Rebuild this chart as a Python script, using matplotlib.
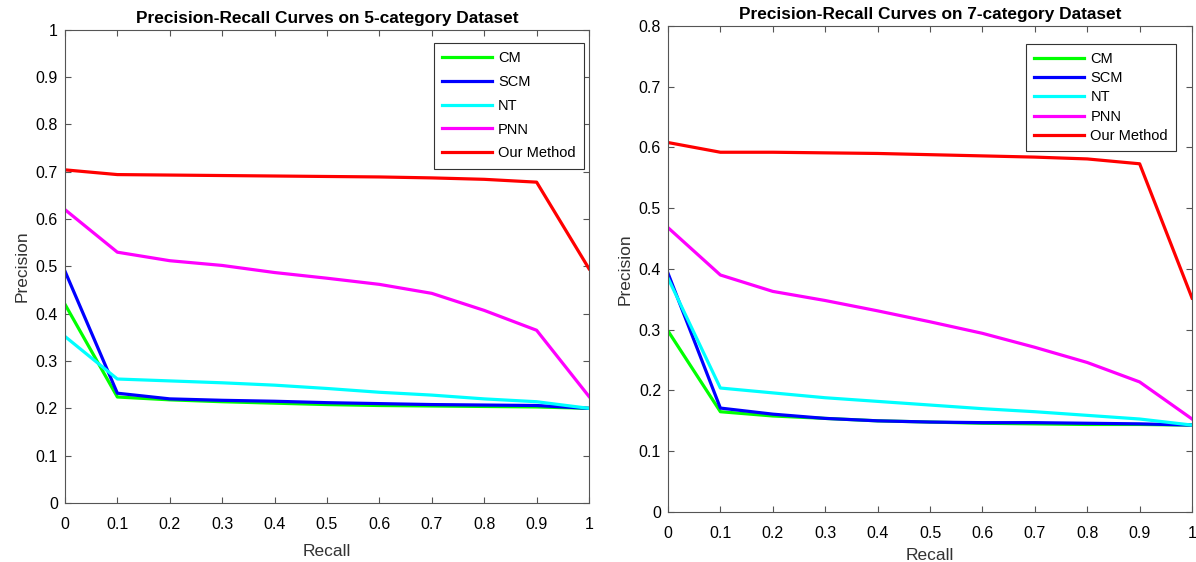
import matplotlib
matplotlib.use('Agg')
from matplotlib import pyplot as plt

plt.rcParams['font.family'] = ['Liberation Sans', 'DejaVu Sans']

recall = [0, 0.1, 0.2, 0.3, 0.4, 0.5, 0.6, 0.7, 0.8, 0.9, 1.0]
names = ['CM', 'SCM', 'NT', 'PNN', 'Our Method']
colors = ['#00ff00', '#0000ff', '#00ffff', '#ff00ff', '#ff0000']

# 5-category dataset
cm5 = [0.42, 0.224, 0.218, 0.214, 0.211, 0.208, 0.206, 0.205, 0.204, 0.203, 0.2]
scm5 = [0.49, 0.232, 0.220, 0.217, 0.215, 0.212, 0.210, 0.208, 0.207, 0.206, 0.2]
nt5 = [0.352, 0.262, 0.258, 0.254, 0.249, 0.242, 0.234, 0.228, 0.220, 0.214, 0.2]
pnn5 = [0.62, 0.53, 0.512, 0.502, 0.487, 0.475, 0.462, 0.443, 0.407, 0.365, 0.225]
ours5 = [0.704, 0.694, 0.693, 0.692, 0.691, 0.690, 0.689, 0.687, 0.684, 0.678, 0.495]

# 7-category dataset
cm7 = [0.298, 0.165, 0.158, 0.154, 0.150, 0.148, 0.146, 0.145, 0.144, 0.144, 0.143]
scm7 = [0.393, 0.171, 0.161, 0.154, 0.150, 0.148, 0.147, 0.147, 0.146, 0.145, 0.143]
nt7 = [0.385, 0.204, 0.196, 0.188, 0.182, 0.176, 0.170, 0.165, 0.159, 0.153, 0.143]
pnn7 = [0.468, 0.39, 0.363, 0.348, 0.331, 0.313, 0.294, 0.271, 0.246, 0.214, 0.153]
ours7 = [0.608, 0.592, 0.592, 0.591, 0.590, 0.588, 0.586, 0.584, 0.581, 0.573, 0.352]

fig = plt.figure(figsize=(11.96, 5.62), dpi=100)
ax1 = fig.add_axes([0.0543, 0.105, 0.4382, 0.842])
ax2 = fig.add_axes([0.5585, 0.089, 0.4382, 0.865])


def draw(ax, series, ymax, title, leg_anchor, leg_spacing, xlabpad):
    for vals, name, c in zip(series, names, colors):
        ax.plot(recall, vals, color=c, linewidth=2.3, label=name)
    ax.set_xlim(0, 1)
    ax.set_ylim(0, ymax)
    ax.set_xticks(recall)
    ax.set_xticklabels(['0', '0.1', '0.2', '0.3', '0.4', '0.5', '0.6', '0.7', '0.8', '0.9', '1'])
    yt = [i / 10 for i in range(int(round(ymax * 10)) + 1)]
    ax.set_yticks(yt)
    ax.set_yticklabels(['0' if v == 0 else ('1' if v == 1 else '%.1f' % v) for v in yt])
    ax.tick_params(direction='in', top=True, right=True, labelsize=11.5, length=4,
                   color='#555555')
    ax.tick_params(axis='x', pad=10)
    ax.tick_params(axis='y', pad=5)
    for s in ax.spines.values():
        s.set_color('#555555')
        s.set_linewidth(0.8)
    ax.set_xlabel('Recall', fontsize=12.5, color='#333333', labelpad=xlabpad)
    ax.set_ylabel('Precision', fontsize=12.5, color='#333333', labelpad=4)
    ax.set_title(title, fontsize=12.4, fontweight='bold', pad=5)
    leg = ax.legend(loc='upper right', bbox_to_anchor=leg_anchor, borderaxespad=0,
                    fontsize=10.5, fancybox=False, framealpha=1, edgecolor='#333333',
                    handlelength=3.4, labelspacing=leg_spacing, handletextpad=0.45,
                    borderpad=0.55)
    leg.get_frame().set_linewidth(0.8)


draw(ax1, [cm5, scm5, nt5, pnn5, ours5], 1.0, 'Precision-Recall Curves on 5-category Dataset',
     (0.990, 0.9725), 0.68, 9)
draw(ax2, [cm7, scm7, nt7, pnn7, ours7], 0.8, 'Precision-Recall Curves on 7-category Dataset',
     (0.9695, 0.963), 0.36, 5)

plt.savefig('out.png')
